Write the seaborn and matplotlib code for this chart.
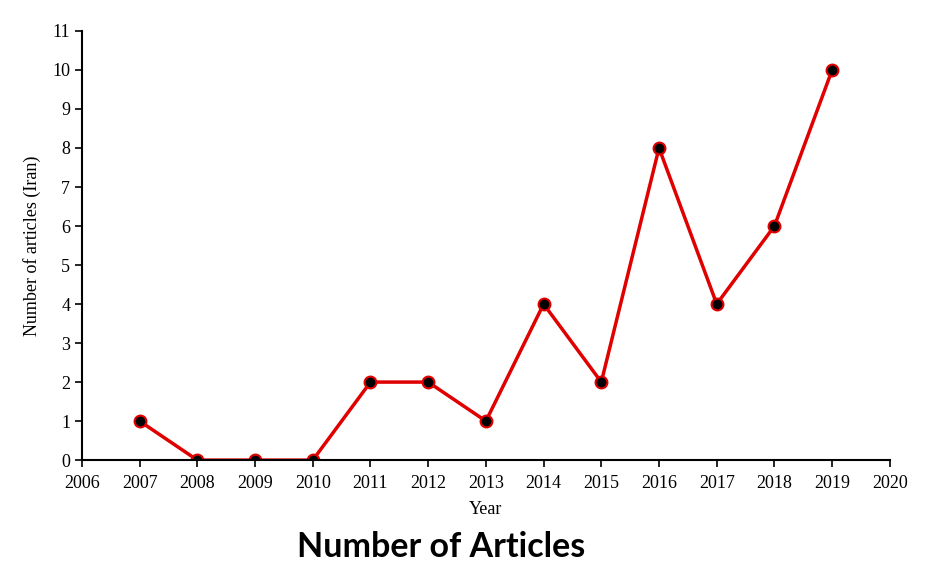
import pandas as pd
import matplotlib.pyplot as plt
import seaborn as sns

years = [2007, 2008, 2009, 2010, 2011, 2012, 2013, 2014, 2015, 2016, 2017, 2018, 2019]
articles = [1, 0, 0, 0, 2, 2, 1, 4, 2, 8, 4, 6, 10]
x_ticks = list(range(2006, 2021))
y_ticks = list(range(0, 12))

df = pd.DataFrame({"Year": years, "Articles": articles})

sns.set_style("white")
plt.rcParams['font.family'] = ['Liberation Serif', 'DejaVu Serif']
plt.rcParams['text.color'] = 'black'
plt.rcParams['axes.labelcolor'] = 'black'

fig = plt.figure(figsize=(9.25, 5.73), dpi=100)
ax = fig.add_axes([0.0886, 0.197, 0.8734, 0.749])

sns.lineplot(x='Year', y='Articles', data=df, ax=ax, color='#e00000', linewidth=2.5,
             marker='o', markersize=8.5, markerfacecolor='black',
             markeredgecolor='#e00000', markeredgewidth=1.5)

ax.set_xlim(2006, 2020)
ax.set_ylim(0, 11)
ax.set_xticks(x_ticks)
ax.set_yticks(y_ticks)
ax.tick_params(axis='both', direction='out', length=5, width=1.2, colors='black',
               labelsize=13, bottom=True, left=True)
ax.tick_params(axis='x', pad=6)
ax.set_xlabel("Year", fontsize=13, labelpad=6)
ax.set_ylabel("Number of articles (Iran)", fontsize=13, labelpad=8)
for side in ['top', 'right']:
    ax.spines[side].set_visible(False)
for side in ['left', 'bottom']:
    ax.spines[side].set_color('black')
    ax.spines[side].set_linewidth(1.5)

fig.text(0.477, 0.045, "Number of Articles", ha='center', va='center', color='black',
         fontsize=24.5, fontweight='bold', family=['Lato', 'DejaVu Sans'])

plt.savefig('out.png', dpi=100)
